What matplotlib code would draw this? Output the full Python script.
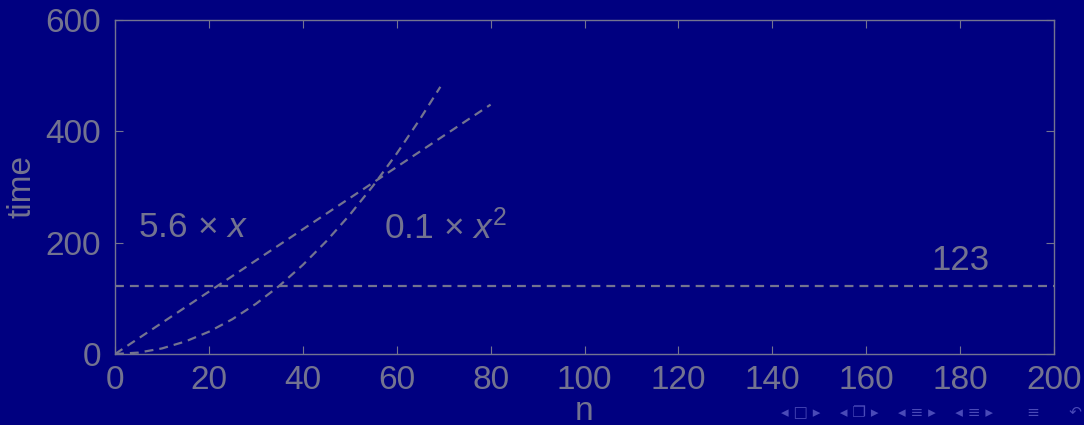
import matplotlib
matplotlib.use("Agg")
import matplotlib.pyplot as plt

# data
lin_x = [0, 10, 20, 30, 40, 50, 60, 70, 80]
lin_y = [0, 56, 112, 168, 224, 280, 336, 392, 448]
quad_x = [0, 5, 10, 15, 20, 25, 30, 35, 40, 45, 50, 55, 60, 65, 69.3]
quad_y = [0, 2.5, 10, 22.5, 40, 62.5, 90, 122.5, 160, 202.5, 250, 302.5, 360, 422.5, 480]
const_x = [0, 200]
const_y = [123, 123]
xticks = [0, 20, 40, 60, 80, 100, 120, 140, 160, 180, 200]
yticks = [0, 200, 400, 600]

BG = "#000080"
FG = "#737390"

plt.rcParams['font.family'] = ['Liberation Sans', 'DejaVu Sans']
plt.rcParams['mathtext.fontset'] = 'custom'
plt.rcParams['mathtext.rm'] = 'Liberation Sans'
plt.rcParams['mathtext.it'] = 'Liberation Sans:italic'

fig = plt.figure(figsize=(10.84, 4.25), dpi=100, facecolor=BG)
ax = fig.add_axes([115/1084, 1-354/425, (1054-115)/1084, (354-20)/425])
ax.set_facecolor(BG)

ls = (0, (4, 2.7))
for xs, ys in [(lin_x, lin_y), (quad_x, quad_y), (const_x, const_y)]:
    ax.plot(xs, ys, color=FG, lw=1.6, linestyle=ls)

ax.set_xlim(0, 200)
ax.set_ylim(0, 600)
ax.set_xticks(xticks)
ax.set_yticks(yticks)
ax.tick_params(direction='in', top=True, right=True, colors=FG, labelsize=24,
               length=6, width=0.8)
ax.tick_params(axis='x', pad=8)
ax.tick_params(axis='y', pad=10)
for sp in ax.spines.values():
    sp.set_color(FG)
    sp.set_linewidth(1.0)

ax.set_xlabel("n", color=FG, fontsize=24, labelpad=0)
ax.set_ylabel("time", color=FG, fontsize=24, labelpad=6)

ax.text(16.6, 228, r"5.6 $\times$ $x$", color=FG, fontsize=25.5, ha='center', va='center')
ax.text(70.5, 228, r"0.1 $\times$ $x^2$", color=FG, fontsize=25.5, ha='center', va='center')
ax.text(180, 168, "123", color=FG, fontsize=25, ha='center', va='center')

fig.text(0.998, 0.028, "◂ □ ▸    ◂ ❐ ▸    ◂ ≡ ▸    ◂ ≡ ▸       ≡      ↶", color="#4a4ab8",
         fontsize=11, ha='right', va='center', family=['DejaVu Sans'])

fig.savefig("out.png", dpi=100, facecolor=BG)
